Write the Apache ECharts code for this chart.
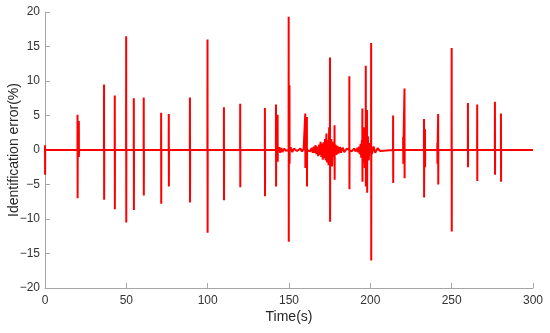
<!DOCTYPE html>
<html>
<head>
<meta charset="utf-8">
<script src="https://cdn.jsdelivr.net/npm/echarts@6/dist/echarts.min.js"></script>
<style>html,body{margin:0;padding:0;background:#fff}#c{width:550px;height:333px}</style>
</head>
<body>
<div id="c"></div>
<script>
// Spike events: time (s), positive peak (%), negative peak (%)
const spikeTimes = [0, 20, 20.8, 36.3, 42.9, 49.9, 54.6, 60.7, 71.4, 76.1, 89.1, 99.9, 110, 120, 135.2, 142, 143, 149.8, 150.3, 160, 161, 175.2, 178, 187.1, 195.1, 197.2, 198, 200.5, 214, 220.2, 221, 233, 233.6, 241.2, 241.7, 250, 260, 265.7, 276.6, 280.3];
const spikeUp    = [0.7, 5.1, 4.2, 9.5, 7.9, 16.5, 7.5, 7.6, 5.4, 5.2, 7.6, 16.0, 6.2, 6.7, 6.1, 6.6, 5.1, 19.3, 9.4, 5.3, 4.8, 13.4, 3.6, 10.7, 6.0, 12.2, 5.8, 15.5, 5.0, 1.9, 8.9, 4.5, 3.0, 1.0, 5.2, 14.8, 6.8, 6.6, 7.0, 5.3];
const spikeDown  = [-3.6, -7.0, -1.0, -7.2, -8.6, -10.5, -8.7, -6.6, -7.8, -5.3, -7.6, -12.0, -7.3, -5.4, -6.7, -5.3, -1.7, -13.3, -2.0, -2.6, -5.3, -10.4, -4.3, -5.7, -4.6, -5.3, -6.2, -16.0, -4.8, -2.0, -4.1, -6.9, -2.5, -2.0, -5.0, -11.8, -2.5, -4.5, -3.6, -4.6];

// Oscillation (noise) segments
const noiseTimes  = [144, 144.6, 145.3, 146, 147, 148, 151, 152, 153, 155, 157, 158, 159, 162, 163, 164, 164.6, 165.2, 165.8, 166.3, 166.8, 167.4, 167.9, 168.5, 169, 169.4, 169.9, 170.3, 170.8, 171.2, 171.7, 172.1, 172.6, 173, 173.4, 173.9, 174.3, 174.7, 175.6, 176, 176.5, 177, 177.5, 178.6, 179.2, 179.8, 180.5, 181.3, 182, 183, 184, 185.5, 188.5, 190, 191, 192, 192.5, 193, 193.5, 194, 194.4, 194.8, 195.6, 196, 196.6, 197.7, 198.5, 199, 199.6, 201, 202, 203, 204.5, 206];
const noiseValues = [0.4, -0.4, 0.3, -0.3, 0.2, -0.1, 0.4, -0.3, 0.2, -0.15, 0.2, -0.2, 0.15, 0.15, -0.2, 0.3, -0.4, 0.5, -0.4, 0.7, -0.6, 0.5, -0.9, 0.8, -0.7, 1.2, -1.0, 0.9, -1.4, 1.1, -1.2, 1.6, -1.5, 2.4, -1.8, 1.4, -2.2, 3.3, -2.0, 1.6, -2.4, 1.2, -1.0, 0.8, -0.7, 0.6, -0.5, 0.45, -0.4, 0.35, -0.3, 0.2, -0.2, 0.2, -0.2, 0.3, -0.35, 0.5, -0.6, 0.9, -1.1, 1.4, -1.8, 3.3, -2.6, -3.2, 2.0, -1.5, 1.0, -0.6, 0.5, -0.4, 0.25, -0.15];

// X / Y tick settings
const xTicks = [0, 50, 100, 150, 200, 250, 300];
const yTicks = [-20, -15, -10, -5, 0, 5, 10, 15, 20];

const pts = [[300, 0]];
for (let i = 0; i < spikeTimes.length; i++) {
  const t = spikeTimes[i];
  if (t > 0) pts.push([t - 0.05, 0]);
  pts.push([t, spikeUp[i]]);
  pts.push([t + 0.06, spikeDown[i]]);
  pts.push([t + 0.12, 0]);
}
for (let i = 0; i < noiseTimes.length; i++) pts.push([noiseTimes[i], noiseValues[i]]);
pts.sort((a, b) => a[0] - b[0]);

const chart = echarts.init(document.getElementById('c'), null, {renderer: 'canvas'});
const font = 'Liberation Sans, Arial, Helvetica, sans-serif';
chart.setOption({
  animation: false,
  grid: {left: 45, right: 17, top: 12, bottom: 45, containLabel: false, outerBoundsMode: 'none'},
  xAxis: {
    type: 'value', min: xTicks[0], max: xTicks[xTicks.length - 1], interval: 50,
    name: 'Time(s)', nameLocation: 'middle', nameGap: 22, nameMoveOverlap: false,
    nameTextStyle: {fontFamily: font, fontSize: 14, color: '#262626'},
    axisLine: {onZero: false, lineStyle: {color: '#a6a6a6', width: 1}},
    axisTick: {inside: true, length: 5, lineStyle: {color: '#a6a6a6'}},
    axisLabel: {fontFamily: font, fontSize: 12, color: '#333', margin: 7},
    splitLine: {show: false}
  },
  yAxis: {
    type: 'value', min: yTicks[0], max: yTicks[yTicks.length - 1], interval: 5,
    name: 'Identification error(%)', nameLocation: 'middle', nameGap: 24, nameMoveOverlap: false,
    nameTextStyle: {fontFamily: font, fontSize: 14, color: '#262626'},
    axisLine: {show: true, lineStyle: {color: '#a6a6a6', width: 1}},
    axisTick: {show: true, inside: true, length: 5, lineStyle: {color: '#a6a6a6'}},
    axisLabel: {fontFamily: font, fontSize: 12, color: '#333', margin: 5,
      formatter: v => (v < 0 ? '\u2212' + Math.abs(v) : String(v))},
    splitLine: {show: false}
  },
  series: [{
    type: 'line', data: pts, showSymbol: false, symbol: 'none',
    lineStyle: {color: '#ff0000', width: 2}, z: 2
  }]
});
</script>
</body>
</html>
